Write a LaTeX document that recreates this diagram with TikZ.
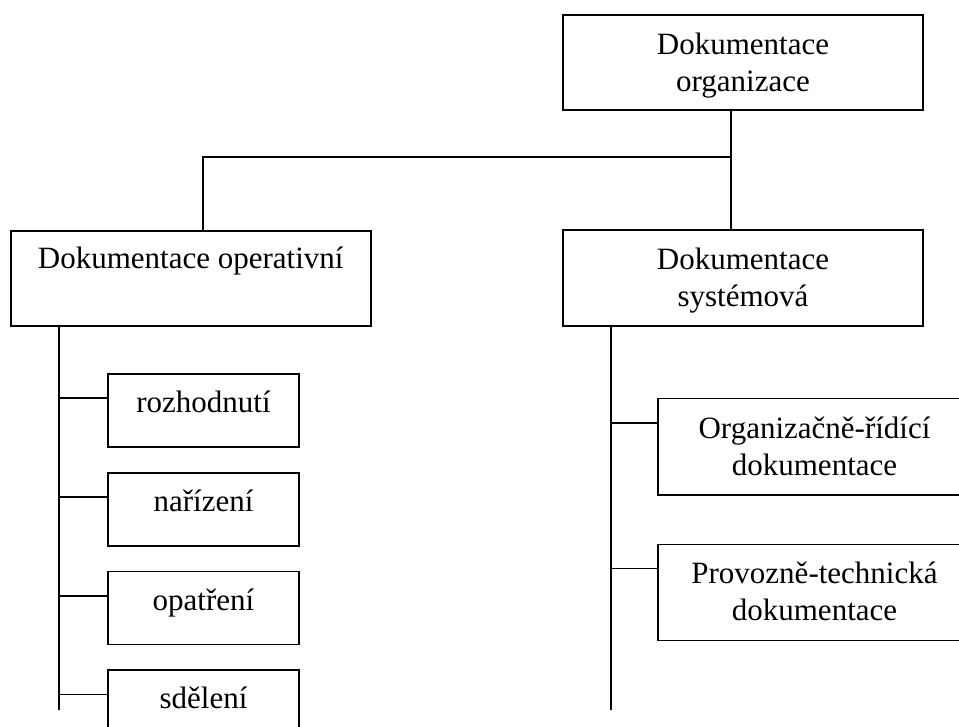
\documentclass[tikz,border=0pt]{standalone}
\usepackage{fontspec}
\setmainfont{Liberation Serif}
\usetikzlibrary{positioning}

\begin{document}
\begin{tikzpicture}[x=1pt, y=-1pt, line width=1.8pt,
    box/.style={draw, rectangle, inner sep=0pt, align=center,
      font=\fontsize{31}{37}\selectfont},
    leafbox/.style={box, minimum width=191pt, text height=38.5pt, text depth=34.5pt},
    sysbox/.style={box, minimum width=313pt, text height=76.5pt, text depth=19.5pt}]
  \clip (0,0) rectangle (959,727);

  % Top level
  \node[box, minimum width=360pt, text height=76.5pt, text depth=18.5pt, anchor=north]
    (org) at (743,14) {Dokumentace\\organizace};
  \node[box, minimum width=360pt, text height=38pt, text depth=57pt, anchor=north]
    (oper) at (190.7,230) {Dokumentace operativní};
  \node[box, minimum width=360pt, text height=76.5pt, text depth=19.5pt, anchor=north]
    (sys) at (743,229) {Dokumentace\\systémová};

  \coordinate (j) at (731,157);
  \coordinate (jl) at (203,157);
  \draw (org.south -| j) -- (sys.north -| j);
  \draw (j) -- (jl) -- (oper.north -| jl);

  % Operative documents
  \node[leafbox, anchor=north] (roz) at (203.5,373) {rozhodnutí};
  \node[leafbox, below=24pt of roz] (nar) {nařízení};
  \node[leafbox, below=24pt of nar] (opa) {opatření};
  \node[leafbox, below=24pt of opa] (sde) {sdělení};

  \coordinate (sL) at (59,710);
  \draw (oper.south -| sL) -- (sL);
  \foreach \n in {roz,nar,opa,sde}{
    \draw ([yshift=-25pt]\n.north west) -- ([yshift=-25pt]\n.north west -| sL);
  }

  % System documents
  \node[sysbox, anchor=north] (ord) at (814.5,397.7) {Organizačně-řídící\\dokumentace};
  \node[sysbox, below=48pt of ord] (ptd) {Provozně-technická\\dokumentace};

  \coordinate (sR) at (611,710);
  \draw (sys.south -| sR) -- (sR);
  \foreach \n in {ord,ptd}{
    \draw ([yshift=-25pt]\n.north west) -- ([yshift=-25pt]\n.north west -| sR);
  }
\end{tikzpicture}
\end{document}
